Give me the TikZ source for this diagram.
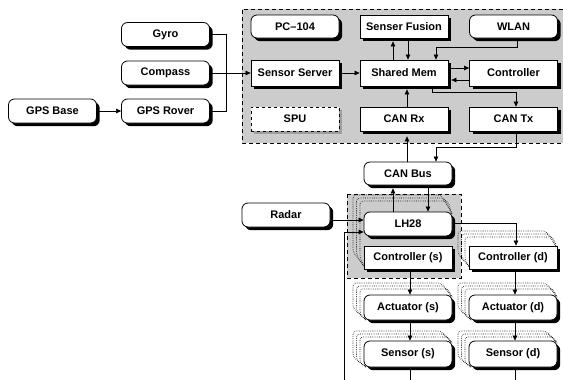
\documentclass[tikz,border=0pt]{standalone}
\usepackage{fontspec}
\setmainfont{Liberation Sans}
\usetikzlibrary{shadows,arrows.meta}
\tikzset{
  box/.style={draw, line width=0.8pt, fill=white, minimum width=88pt, minimum height=24pt,
    inner sep=0pt, font=\bfseries\fontsize{11}{13}\selectfont,
    drop shadow={shadow xshift=3.2pt, shadow yshift=-3.2pt, opacity=1, fill=black}},
  rbox/.style={box, rounded corners=6pt},
  spubox/.style={draw, dashed, line width=0.7pt, fill=white, minimum width=88pt, minimum height=24pt,
    inner sep=0pt, font=\bfseries\fontsize{11}{13}\selectfont,
    drop shadow={shadow xshift=3pt, shadow yshift=-3pt, opacity=1, fill=gray!75}},
  arr/.style={-{Triangle[length=5pt,width=4.5pt]}, line width=0.6pt},
  conn/.style={line width=0.6pt},
  grayarea/.style={fill=gray!40},
  grayborder/.style={line width=0.7pt, dash pattern=on 4pt off 3pt},
  stackline/.style={line width=0.6pt, dash pattern=on 0.6pt off 1.2pt, rounded corners=3pt},
}
% #1 x0, #2 y0, #3 x1, #4 y1, #5 extra vertical offset
\newcommand\stackoutline[5]{%
  \foreach \dx/\dy in {4/5,7.5/8,11/11}{%
    \draw[stackline] (#1+2,#4) -- (#1-\dx,#4-\dy-#5) -- (#1-\dx,#2-\dy-#5) -- (#3-\dx,#2-\dy-#5) -- (#3,#2+2);
  }}
\begin{document}
\begin{tikzpicture}[x=1pt,y=-1pt]
\useasboundingbox (0,0) rectangle (563,380);
% gray areas
\fill[grayarea] (242,9) rectangle (563,143);
\draw[grayborder] (563,9) -- (242,9) -- (242,143) -- (563,143);
\fill[grayarea] (347,194) rectangle (461,278);
\draw[grayborder] (347,194) rectangle (461,278);
% stacks
\stackoutline{364}{212}{452}{269}{6}
\stackoutline{469}{246}{557}{269}{4}
\stackoutline{364}{295}{452}{320}{1}
\stackoutline{469}{295}{557}{320}{1}
\stackoutline{364}{341}{452}{367}{-1}
\stackoutline{469}{341}{557}{367}{-1}
% nodes
\node[rbox] (gyro) at (165.5,34.5) {Gyro};
\node[rbox] (compass) at (165.5,73) {Compass};
\node[rbox] (gpsrover) at (165.5,111) {GPS Rover};
\node[rbox] (gpsbase) at (52.5,111) {GPS Base};
\node[rbox, minimum height=23pt] (pc) at (295,26.5) {PC--104};
\node[box, minimum height=23pt] (sf) at (404,26.5) {Senser Fusion};
\node[rbox, minimum height=23pt] (wlan) at (513.5,26.5) {WLAN};
\node[box, minimum height=26pt] (sserver) at (295,73) {Sensor Server};
\node[box, minimum height=26pt] (shared) at (404,73) {Shared Mem};
\node[box, minimum height=26pt] (ctrl) at (513.5,73) {Controller};
\node[spubox] (spu) at (295,119) {SPU};
\node[box] (canrx) at (404,119) {CAN Rx};
\node[box] (cantx) at (513.5,119) {CAN Tx};
\node[rbox, minimum height=23pt] (canbus) at (408,173.5) {CAN Bus};
\node[rbox] (radar) at (286,215) {Radar};
\node[rbox] (lh) at (408,224) {LH28};
\node[box, minimum height=23pt] (ctrls) at (408,257.5) {Controller (s)};
\node[box, minimum height=23pt] (ctrld) at (513,257.5) {Controller (d)};
\node[rbox, minimum height=25pt] (acts) at (408,307.5) {Actuator (s)};
\node[rbox, minimum height=25pt] (actd) at (513,307.5) {Actuator (d)};
\node[rbox, minimum height=26pt] (sens) at (408,354) {Sensor (s)};
\node[rbox, minimum height=26pt] (send) at (513,354) {Sensor (d)};
% connectors
\coordinate (j) at (226,73);
\draw[arr] (gpsbase) -- (gpsrover);
\draw[conn] (gyro.east) -| (j);
\draw[conn] (gpsrover.east) -| (j);
\draw[arr] (compass.east) -- (sserver.west);
\draw[arr] (sserver) -- (shared);
\draw[arr] ([xshift=-11pt]shared.north) -- ([xshift=-11pt,yshift=-3pt]sf.south);
\draw[arr] ([xshift=4pt,yshift=-3pt]sf.south) -- ([xshift=4pt]shared.north);
\coordinate (w1) at (436,47);
\draw[arr] ([xshift=3.5pt,yshift=-3pt]wlan.south) |- (w1) -- (w1 |- shared.north);
\draw[arr] ([yshift=5pt]shared.east) -- ([yshift=5pt]ctrl.west);
\draw[arr] ([yshift=-7pt]ctrl.west) -- ([yshift=-7pt,xshift=3pt]shared.east);
\draw[arr] ([xshift=28pt]shared.south) |- ([xshift=2.5pt,yshift=14pt]cantx.north) -- ([xshift=2.5pt]cantx.north);
\draw[arr] ([xshift=3pt]canrx.north) -- ([xshift=3pt,yshift=-3pt]shared.south);
\draw[arr] ([xshift=-1pt]canbus.north) -- ([xshift=3pt,yshift=-5pt]canrx.south);
\draw[arr] ([xshift=2.5pt,yshift=-3pt]cantx.south) |- ([xshift=28pt,yshift=14pt]canbus.north) -- ([xshift=28pt]canbus.north);
\draw[arr] ([xshift=-15pt]lh.north) -- ([xshift=-15pt,yshift=-3pt]canbus.south);
\draw[arr] ([xshift=20pt,yshift=-3pt]canbus.south) -- ([xshift=20pt]lh.north);
\draw[arr] ([xshift=3pt,yshift=-5pt]radar.east) -- ([yshift=4pt]lh.west);
\coordinate (fb) at (344,380);
\draw[arr] (fb) |- ([yshift=-8pt]lh.west);
\draw[arr] ([xshift=3pt,yshift=1pt]lh.east) -| ([xshift=3pt]ctrld.north);
\draw[arr] ([xshift=2pt,yshift=-3pt]ctrls.south) -- ([xshift=2pt]acts.north);
\draw[arr] ([xshift=2pt,yshift=-3pt]acts.south) -- ([xshift=2pt]sens.north);
\draw[arr] ([xshift=2pt,yshift=-3pt]ctrld.south) -- ([xshift=2pt]actd.north);
\draw[arr] ([xshift=2pt,yshift=-3pt]actd.south) -- ([xshift=2pt]send.north);
\coordinate (ends) at (410,380);
\coordinate (endd) at (515,380);
\draw[conn] ([xshift=2pt,yshift=-3pt]sens.south) -- (ends);
\draw[conn] ([xshift=2pt,yshift=-3pt]send.south) -- (endd);
\end{tikzpicture}
\end{document}
